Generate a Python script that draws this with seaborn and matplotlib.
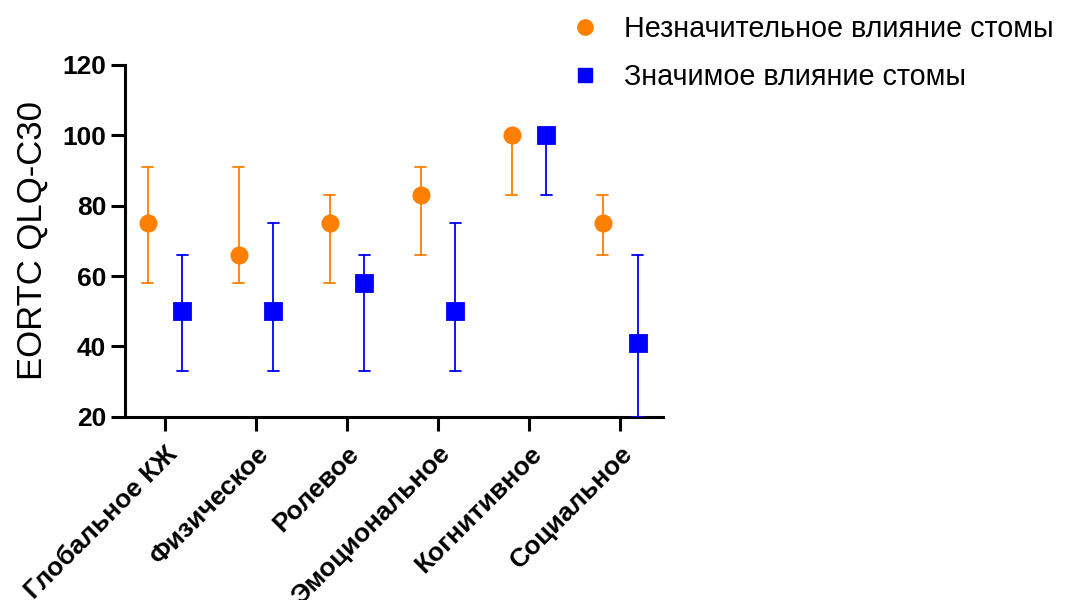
import numpy as np
import pandas as pd
import matplotlib
matplotlib.use("Agg")
import matplotlib.pyplot as plt
from matplotlib.lines import Line2D
import seaborn as sns

# QLQ-C30 scales
categories = ["Глобальное КЖ", "Физическое", "Ролевое", "Эмоциональное", "Когнитивное", "Социальное"]
groups = ["Незначительное влияние стомы", "Значимое влияние стомы"]

# median and interquartile limits per scale
minor_median = [75, 66, 75, 83, 100, 75]
minor_low = [58, 58, 58, 66, 83, 66]
minor_high = [91, 91, 83, 91, 100, 83]

major_median = [50, 50, 58, 50, 100, 41]
major_low = [33, 33, 33, 33, 83, 20]
major_high = [66, 75, 66, 75, 100, 66]

yticks = [20, 40, 60, 80, 100, 120]

colors = {groups[0]: "#FF8000", groups[1]: "#0000FF"}

rows = []
for g, med, lo, hi in [(groups[0], minor_median, minor_low, minor_high),
                       (groups[1], major_median, major_low, major_high)]:
    for c, m, l, h in zip(categories, med, lo, hi):
        for v in (l, m, h):
            rows.append({"Шкала": c, "Группа": g, "Балл": v})
df = pd.DataFrame(rows)

sns.set_theme(style="ticks", rc={"text.color": "black", "axes.labelcolor": "black",
                                 "xtick.color": "black", "ytick.color": "black",
                                 "axes.edgecolor": "black"})
plt.rcParams["font.family"] = ["Liberation Sans", "DejaVu Sans"]

fig = plt.figure(figsize=(10.72, 6.0), dpi=100)
ax = fig.add_axes([125 / 1072, 1 - 416.7 / 600, (663 - 125) / 1072, (416.7 - 65) / 600])

sns.pointplot(
    data=df, x="Шкала", y="Балл", hue="Группа",
    order=categories, hue_order=groups, palette=colors,
    estimator="median", errorbar=("pi", 100),
    markers=["o", "s"], linestyles="none", dodge=0.38,
    capsize=0.12, err_kws={"linewidth": 1.3},
    markersize=11, ax=ax, legend=False, zorder=3,
)

ax.set_ylim(20, 120)
ax.set_xlim(-0.44, 5.47)
ax.set_yticks(yticks)
ax.set_yticklabels([str(t) for t in yticks], fontsize=19, fontweight="bold")
ax.set_xticks(range(len(categories)))
ax.set_xticklabels(categories, fontsize=19, fontweight="bold",
                   rotation=45, ha="right", va="top", rotation_mode="anchor")
ax.set_xlabel("")
ax.set_ylabel("EORTC QLQ-C30", fontsize=25, labelpad=10, color="black")

for side in ("top", "right"):
    ax.spines[side].set_visible(False)
for side in ("left", "bottom"):
    ax.spines[side].set_linewidth(2.2)
ax.tick_params(axis="both", width=2.2, length=10)
ax.tick_params(axis="x", pad=8)

handles = [
    Line2D([], [], linestyle="none", marker="o", markersize=11,
           color=colors[groups[0]], label=groups[0]),
    Line2D([], [], linestyle="none", marker="s", markersize=10,
           color=colors[groups[1]], label=groups[1]),
]
fig.legend(handles=handles, loc="upper left", bbox_to_anchor=(542 / 1072, 1.018),
           frameon=False, fontsize=20.7, handletextpad=0.75, labelspacing=0.68,
           handlelength=1.2, labelcolor="black")

fig.savefig("out.png", dpi=100)
